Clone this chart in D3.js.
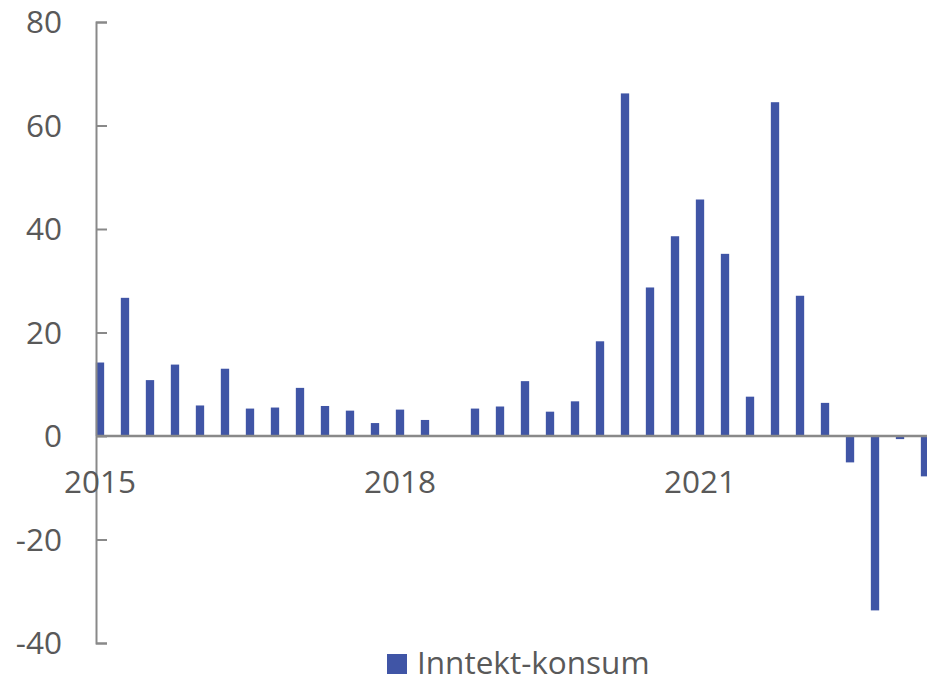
<!DOCTYPE html>
<html>
<head>
<meta charset="utf-8">
<script src="https://cdn.jsdelivr.net/npm/d3@7"></script>
<style>
	body { margin: 0; background: #fff; }
	svg { display: block; font-family: "Open Sans", sans-serif; }
</style>
</head>
<body>
<div id="chart"></div>
<script>

	///////////////////////////////////////////////////////////////////////////
	//////////////////////////////// The data /////////////////////////////////
	///////////////////////////////////////////////////////////////////////////

	var quarters = [];
	[2015, 2016, 2017, 2018, 2019, 2020, 2021, 2022, 2023].forEach(function(y) {
		[1, 2, 3, 4].forEach(function(q) { quarters.push(y + "K" + q); });
	});
	quarters = quarters.slice(0, 34); //2015K1 - 2023K2

	var values = [
		14.2, 26.7, 10.8, 13.8,
		5.9, 13.0, 5.3, 5.5,
		9.3, 5.8, 4.9, 2.5,
		5.1, 3.1, 0.1, 5.3,
		5.7, 10.6, 4.7, 6.7,
		18.3, 66.2, 28.7, 38.6,
		45.7, 35.2, 7.6, 64.5,
		27.1, 6.4, -5.1, -33.7,
		-0.6, -7.8
	];

	var yTicks = [-40, -20, 0, 20, 40, 60, 80];
	var yearLabels = ["2015", "2018", "2021"];
	var seriesName = "Inntekt-konsum";

	///////////////////////////////////////////////////////////////////////////
	//////////////////// Set up and initiate svg container ////////////////////
	///////////////////////////////////////////////////////////////////////////

	var width = 927;
	var height = 678;
	var barColor = "#4055A6";
	var axisColor = "#898989";
	var textColor = "#595959";
	var fontSize = "31.5px";

	var svg = d3.select("#chart")
		.append("svg")
		.attr("width", width)
		.attr("height", height);

	var x = d3.scaleBand()
		.domain(quarters)
		.range([87.5, 937.5])
		.paddingInner(0.667)
		.paddingOuter(0.333);

	var y = d3.scaleLinear()
		.domain([-40, 80])
		.range([643, 22]);

	var axisX = 96;

	///////////////////////////////////////////////////////////////////////////
	//////////////////////////////// The bars /////////////////////////////////
	///////////////////////////////////////////////////////////////////////////

	svg.selectAll(".bar")
		.data(values)
		.enter().append("rect")
		.attr("class", "bar")
		.attr("x", function(d, i) { return x(quarters[i]); })
		.attr("width", x.bandwidth())
		.attr("y", function(d) { return y(Math.max(0, d)); })
		.attr("height", function(d) { return Math.abs(y(d) - y(0)); })
		.style("fill", barColor);

	///////////////////////////////////////////////////////////////////////////
	//////////////////////////////// The axes /////////////////////////////////
	///////////////////////////////////////////////////////////////////////////

	//Y axis, ticks pointing inward
	var yAxis = svg.append("g")
		.attr("transform", "translate(" + axisX + ",0)")
		.call(d3.axisRight(y).tickValues(yTicks).tickSize(11).tickSizeOuter(11).tickFormat(""));
	yAxis.selectAll("path, line")
		.style("stroke", axisColor)
		.style("stroke-width", 2);

	svg.selectAll(".yLabel")
		.data(yTicks)
		.enter().append("text")
		.attr("class", "yLabel")
		.attr("x", 62)
		.attr("y", function(d) { return y(d); })
		.attr("dy", "0.36em")
		.attr("text-anchor", "end")
		.style("font-size", fontSize)
		.style("fill", textColor)
		.text(function(d) { return d; });

	//Zero line
	svg.append("line")
		.attr("x1", axisX)
		.attr("x2", width)
		.attr("y1", y(0))
		.attr("y2", y(0))
		.style("stroke", axisColor)
		.style("stroke-width", 2.5);

	//Year labels
	svg.selectAll(".xLabel")
		.data(yearLabels)
		.enter().append("text")
		.attr("class", "xLabel")
		.attr("x", function(d) { return x(d + "K1") + x.bandwidth() / 2; })
		.attr("y", 493)
		.attr("text-anchor", "middle")
		.style("font-size", fontSize)
		.style("fill", textColor)
		.text(function(d) { return d; });

	///////////////////////////////////////////////////////////////////////////
	/////////////////////////////// The legend ////////////////////////////////
	///////////////////////////////////////////////////////////////////////////

	var legend = svg.append("g")
		.attr("transform", "translate(387,654)");
	legend.append("rect")
		.attr("width", 20)
		.attr("height", 20)
		.style("fill", barColor);
	legend.append("text")
		.attr("x", 30)
		.attr("y", 19.5)
		.style("font-size", fontSize)
		.style("fill", textColor)
		.text(seriesName);

</script>
</body>
</html>
